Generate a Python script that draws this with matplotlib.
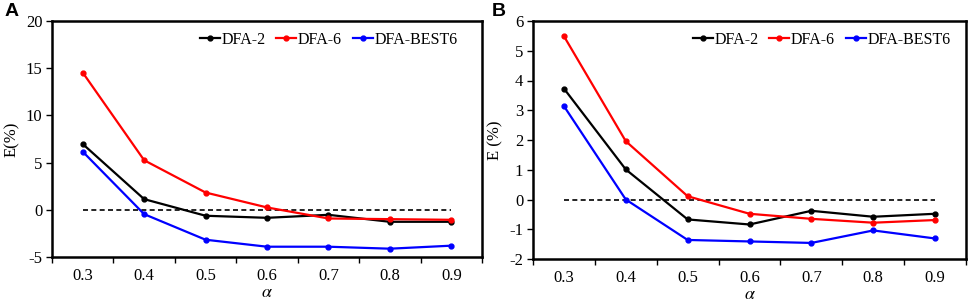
import matplotlib
matplotlib.use("Agg")
import matplotlib.pyplot as plt
import numpy as np

alpha_labels = ["0.3", "0.4", "0.5", "0.6", "0.7", "0.8", "0.9"]
series_names = ["DFA-2", "DFA-6", "DFA-BEST6"]
colors = ["black", "red", "blue"]

a_dfa2 = [6.97, 1.13, -0.63, -0.85, -0.53, -1.27, -1.27]
a_dfa6 = [14.54, 5.25, 1.83, 0.25, -0.92, -0.99, -1.06]
a_best6 = [6.16, -0.46, -3.17, -3.91, -3.91, -4.12, -3.80]

b_dfa2 = [3.73, 1.01, -0.67, -0.84, -0.38, -0.58, -0.48]
b_dfa6 = [5.49, 1.96, 0.11, -0.48, -0.65, -0.78, -0.69]
b_best6 = [3.14, 0.0, -1.36, -1.41, -1.46, -1.04, -1.31]

serif = ["Liberation Serif", "DejaVu Serif"]
plt.rcParams["font.family"] = serif
plt.rcParams["mathtext.fontset"] = "stix"

fig = plt.figure(figsize=(9.69, 3.03), dpi=100)
W, H = 969, 303

def make_ax(l, r, t, b):
    return fig.add_axes([l / W, 1 - b / H, (r - l) / W, (b - t) / H])

axA = make_ax(52, 482, 21, 257)
axB = make_ax(533, 966, 21, 259)

panels = [
    (axA, [a_dfa2, a_dfa6, a_best6], (-5, 20), np.arange(-5, 21, 5), "E(%)", "A", 0.944),
    (axB, [b_dfa2, b_dfa6, b_best6], (-2, 6), np.arange(-2, 7, 1), "E (%)", "B", 0.965),
]

fs = 12
x = np.arange(len(alpha_labels))
for ax, data, ylim, yticks, ylabel, letter, legx in panels:
    ax.plot([x[0], x[-1]], [0, 0], ls=(0, (3, 2)), color="black", lw=1.2, zorder=1)
    for vals, name, c in zip(data, series_names, colors):
        ax.plot(x, vals, color=c, lw=1.6, marker="o", ms=3.5, label=name, zorder=3)
    ax.set_xlim(-0.5, len(alpha_labels) - 0.5)
    ax.set_ylim(*ylim)
    ax.set_yticks(yticks)
    ax.set_yticklabels([str(v) for v in yticks], fontsize=fs)
    ax.set_xticks(x)
    ax.set_xticklabels(alpha_labels, fontsize=fs)
    ax.tick_params(axis="x", length=0, pad=8)
    ax.set_xticks(np.arange(-0.5, len(alpha_labels) + 0.5, 1), minor=True)
    ax.tick_params(axis="x", which="minor", length=4, direction="out", width=1)
    ax.tick_params(axis="y", length=4, direction="out", width=1, pad=3)
    for s in ax.spines.values():
        s.set_linewidth(1.8)
    ax.set_ylabel(ylabel, fontsize=fs, labelpad=4)
    ax.set_xlabel(r"$\alpha$", fontsize=13, labelpad=0)
    ax.legend(loc="upper right", frameon=False, ncol=3, fontsize=11.5,
              handlelength=1.25, handletextpad=0.1, columnspacing=0.7,
              bbox_to_anchor=(legx, 0.955), borderaxespad=0, borderpad=0)

fig.text(5 / W, 1 - 11 / H, "A", fontsize=14, fontweight="bold",
         family=["Liberation Sans", "DejaVu Sans"], va="center", ha="left")
fig.text(492 / W, 1 - 11 / H, "B", fontsize=14, fontweight="bold",
         family=["Liberation Sans", "DejaVu Sans"], va="center", ha="left")

fig.savefig("out.png", dpi=100)
